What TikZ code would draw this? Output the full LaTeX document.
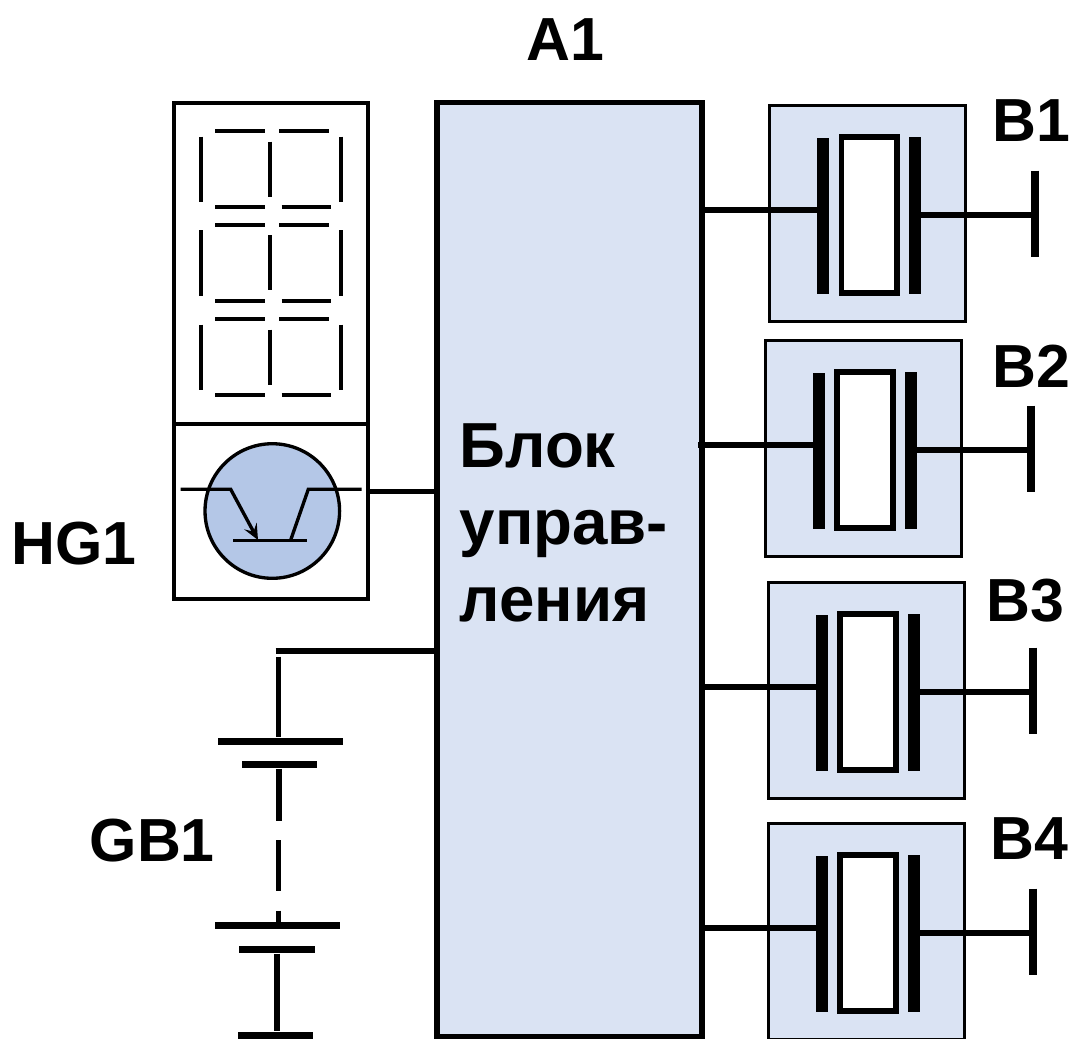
\documentclass[tikz,border=0pt]{standalone}
\usepackage{fontspec}
\setmainfont{Liberation Sans}
\usepackage{xcolor}
\definecolor{panelblue}{HTML}{DAE3F3}
\definecolor{tubeblue}{HTML}{B4C7E7}
\usetikzlibrary{positioning,arrows.meta,calc}

\begin{document}
\begin{tikzpicture}[x=0.01cm, y=-0.01cm,
      block/.style={draw, line width=1.5pt, fill=panelblue, minimum width=2.65cm, minimum height=9.33cm, inner sep=0pt},
      panel/.style={draw, line width=0.95pt, fill=white, minimum width=1.94cm, inner sep=0pt},
      unit/.style={draw, line width=0.85pt, fill=panelblue, minimum width=1.96cm, minimum height=2.15cm, inner sep=0pt},
      quartz/.style={draw, line width=1.7pt, fill=white, minimum width=0.55cm, minimum height=1.55cm, inner sep=0pt},
      plate/.style={fill=black, minimum width=0.115cm, minimum height=1.56cm, inner sep=0pt},
      cell/.style={fill=black, minimum height=0.07cm, inner sep=0pt},
      wire/.style={line width=1.45pt},
      seg/.style={line width=1.05pt},
      trans/.style={line width=0.95pt},
      lbl/.style={font=\fontsize{17.3}{22}\selectfont\bfseries, inner sep=0pt, align=left}]
    \useasboundingbox (0,0) rectangle (1075,1038);
    \node[block] (ctrl) at (569.5,569.5) {};
    \node[lbl, anchor=west, font=\fontsize{18.1}{22}\selectfont\bfseries] (ctrltext) at (459,523) {Блок\\управ-\\ления};
    \node[lbl, anchor=base west] (a1) at (526,60.5) {A1};

    % display and transistor
    \node[panel, minimum height=3.21cm] (disp) at (271,263.5) {};
    \node[panel, minimum height=1.75cm] (sw) at (271,511.5) {};
    \foreach \dy in {0,93.5,188}{
      \draw[seg] (215.3,131.3+\dy) -- (264.7,131.3+\dy);
      \draw[seg] (279,131.3+\dy) -- (328.7,131.3+\dy);
      \draw[seg] (215.3,207.3+\dy) -- (264.7,207.3+\dy);
      \draw[seg] (281.7,207.3+\dy) -- (331.3,207.3+\dy);
      \draw[seg] (201.3,136.7+\dy) -- (201.3,202+\dy);
      \draw[seg] (270.3,141.7+\dy) -- (270.3,196.7+\dy);
      \draw[seg] (341,136.7+\dy) -- (341,202+\dy);
    }
    \node[draw, circle, line width=0.95pt, fill=tubeblue, minimum size=1.345cm, inner sep=0pt] (tube) at (272.3,511) {};
    \coordinate (c1) at (180.7,489.3);
    \coordinate (c2) at (230.7,489.3);
    \coordinate (e1) at (258,540);
    \coordinate (e2) at (290.7,540);
    \coordinate (c3) at (308.3,489.3);
    \coordinate (c4) at (361.7,489.3);
    \coordinate (b1) at (233,540.7);
    \coordinate (b2) at (306.7,540.7);
    \draw[trans, -{Stealth[length=4.5pt, width=4pt, inset=1.8pt]}] (c1) -- (c2) -- (e1);
    \draw[trans] (e2) -- (c3) -- (c4);
    \draw[trans] (b1) -- (b2);
    \draw[wire] (sw.east |- 0,491.7) -- (ctrl.west |- 0,491.7);
    \node[lbl, anchor=base west] (hg) at (11,564) {HG1};

    % battery
    \coordinate (bt) at (275.7,651);
    \coordinate (bv) at (278.7,656.7);
    \node[cell, minimum width=1.25cm] (g1) at (280.2,741) {};
    \node[cell, minimum width=0.755cm] (g2) at (279.5,764.7) {};
    \node[cell, minimum width=1.25cm] (g3) at (277.7,925.7) {};
    \node[cell, minimum width=0.755cm] (g4) at (277,949.3) {};
    \node[cell, minimum width=0.755cm] (g5) at (275.5,1035) {};
    \coordinate (d1) at (279,821);
    \coordinate (d2) at (278.5,840);
    \coordinate (d3) at (278.5,891);
    \coordinate (d4) at (278.5,910.7);
    \draw[wire] (bt) -- (ctrl.west |- bt);
    \draw[wire] (bv) -- (bv |- g1.north);
    \draw[wire] (g2.south -| d1) -- (d1);
    \draw[wire] (d2) -- (d3);
    \draw[wire] (d4) -- (d4 |- g3.north);
    \draw[wire] (g4.south -| 277,0) -- (g5.north -| 277,0);
    \node[lbl, anchor=base west] (gb) at (89,861.7) {GB1};

    % crystal units
    \foreach \n/\dx/\dy/\xs/\tx/\lx/\ly in {B1/0/0/702/1035/992/141.7, B2/-4/235/698/1031/992/387.3,
        B3/-1/477/702/1033/986/621, B4/-1/718/702/1033/990/859}{
      \node[unit] (\n box) at (867.5+\dx,213.5+\dy) {};
      \coordinate (\n in) at (\xs,210+\dy);
      \coordinate (\n out) at (\tx,215+\dy);
      \node[quartz] (\n q) at (869+\dx,215+\dy) {};
      \node[plate] (\n l) at (823+\dx,216+\dy) {};
      \node[plate] (\n r) at (915+\dx,215.5+\dy) {};
      \draw[wire] (\n in) -- (\n l.west |- \n in);
      \draw[wire] (\n r.east |- \n out) -- (\n out);
      \draw[line width=2pt] ($(\n out)+(0,-44.3)$) -- ($(\n out)+(0,41.7)$);
      \node[lbl, anchor=base west] (\n name) at (\lx,\ly) {\n};
    }
  \end{tikzpicture}
\end{document}
